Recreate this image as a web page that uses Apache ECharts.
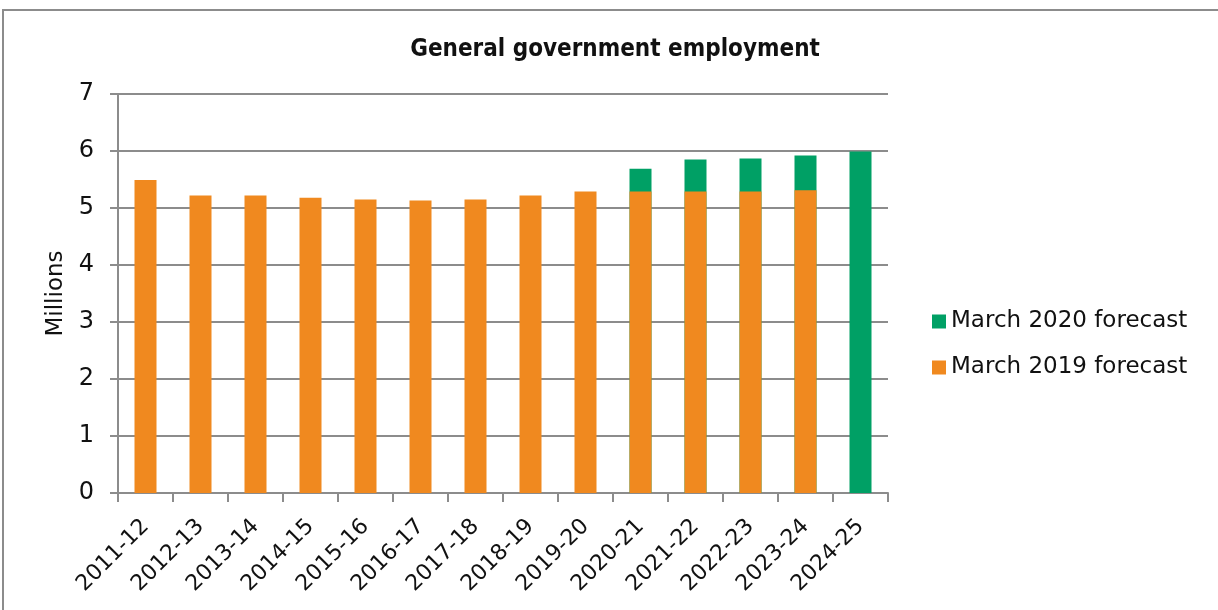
<!DOCTYPE html>
<html><head><meta charset="utf-8">
<script src="https://cdn.jsdelivr.net/npm/echarts@6/dist/echarts.min.js"></script>
<style>
html,body{margin:0;padding:0;background:#fff;}
#frame{position:absolute;left:2px;top:9px;width:1240px;height:640px;border-left:2px solid #8c8c8c;border-top:2px solid #8c8c8c;}
#c{position:absolute;left:0;top:0;width:1218px;height:610px;}
</style></head><body>
<div id="frame"></div>
<div id="c"></div>
<script>
const categories = ['2011-12','2012-13','2013-14','2014-15','2015-16','2016-17','2017-18','2018-19','2019-20','2020-21','2021-22','2022-23','2023-24','2024-25'];
const march2020 = [null,null,null,null,null,null,null,null,null,5.69,5.85,5.87,5.92,5.99];
const march2019 = [5.49,5.22,5.22,5.18,5.15,5.13,5.15,5.22,5.29,5.29,5.29,5.29,5.31,null];
const yTicks = [0,1,2,3,4,5,6,7];

const chart = echarts.init(document.getElementById('c'));
const font = 'DejaVu Sans, sans-serif';
chart.setOption({
  animation:false,
  backgroundColor:'transparent',
  title:{text:'General government employment',left:610,top:33,textAlign:'center',
    textStyle:{fontFamily:'DejaVu Sans Condensed, DejaVu Sans, sans-serif',fontSize:24,fontWeight:'bold',color:'#111'}},
  legend:{orient:'vertical',left:927,top:305,itemWidth:14,itemHeight:14,itemGap:23,
    icon:'rect',textStyle:{fontFamily:font,fontSize:23,color:'#111'},
    data:['March 2020 forecast','March 2019 forecast']},
  grid:{left:118,right:330,top:94,bottom:117},
  xAxis:{type:'category',data:categories,
    axisLine:{lineStyle:{color:'#8c8c8c',width:2}},
    axisTick:{show:true,length:9,alignWithLabel:false,lineStyle:{color:'#8c8c8c',width:2}},
    axisLabel:{rotate:45,fontFamily:font,fontSize:22,color:'#111',margin:30,interval:0}},
  yAxis:{type:'value',min:0,max:7,interval:1,name:'Millions',nameLocation:'middle',nameGap:47,
    nameTextStyle:{fontFamily:font,fontSize:23,color:'#111'},
    axisLine:{show:true,lineStyle:{color:'#8c8c8c',width:2}},
    axisTick:{show:true,length:8,lineStyle:{color:'#8c8c8c',width:2}},
    axisLabel:{fontFamily:font,fontSize:24,color:'#111',margin:24},
    splitLine:{lineStyle:{color:'#8c8c8c',width:2}}},
  series:[
    {name:'March 2020 forecast',type:'bar',data:march2020,barWidth:22,barGap:'-100%',
      itemStyle:{color:'#00a065'}},
    {name:'March 2019 forecast',type:'bar',data:march2019,barWidth:22,barGap:'-100%',
      itemStyle:{color:'#f0891f'}}
  ]
});
</script>
</body></html>
